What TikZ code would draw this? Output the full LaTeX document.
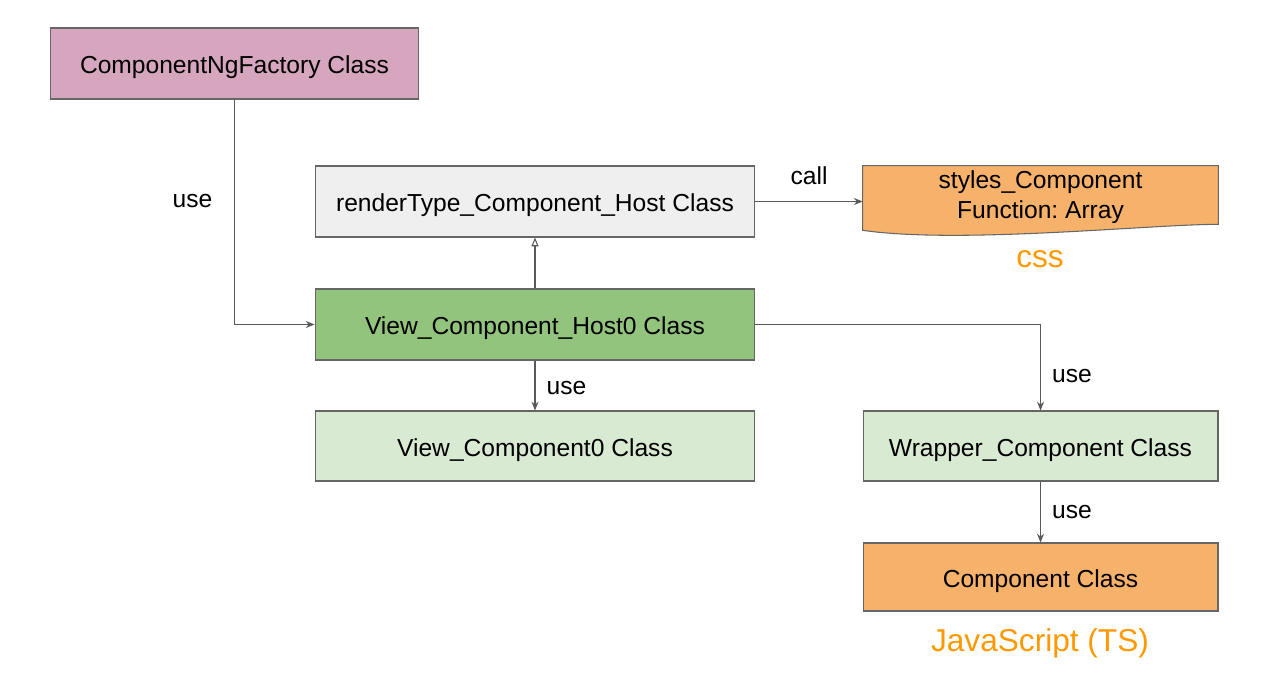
\documentclass[tikz,border=0pt]{standalone}
\usepackage{fontspec}
\setmainfont{Liberation Sans}
\usetikzlibrary{arrows.meta}
\definecolor{factorypink}{HTML}{D5A6BD}
\definecolor{renderlight}{HTML}{EFEFEF}
\definecolor{hostgreen}{HTML}{93C47D}
\definecolor{viewgreen}{HTML}{D9EAD3}
\definecolor{compfill}{HTML}{F6B26B}
\definecolor{langorange}{HTML}{FF9900}
\definecolor{edgegray}{HTML}{666666}
\definecolor{linegray}{HTML}{595959}
\frenchspacing
\begin{document}
\begin{tikzpicture}[x=0.02cm,y=-0.02cm,>={Stealth[length=5pt,width=4pt]},font=\fontsize{14}{17}\selectfont,
	box/.style={draw=edgegray,line width=0.6pt,minimum height=1.42cm,inner sep=0pt,text height=11.5pt,text depth=0pt},
	wide/.style={box,minimum width=8.8cm},
	narrow/.style={box,minimum width=7.1cm},
	conn/.style={draw=linegray,line width=0.6pt},
	lang/.style={text=langorange,font=\fontsize{18}{21}\selectfont}]
	\useasboundingbox (0,0) rectangle (1263,695);
	% boxes
	\node[box,minimum width=7.38cm,fill=factorypink] (fac) at (234.5,63.5) {ComponentNgFactory Class};
	\node[wide,fill=renderlight] (render) at (535,201.5) {renderType\_Component\_Host Class};
	\node[wide,fill=hostgreen] (host) at (535,324.5) {View\_Component\_Host0 Class};
	\node[wide,fill=viewgreen,minimum height=1.4cm] (view) at (535,446) {View\_Component0 Class};
	\node[narrow,fill=viewgreen,minimum height=1.4cm] (wrap) at (1040.5,446) {Wrapper\_Component Class};
	\node[narrow,fill=compfill,minimum height=1.36cm] (comp) at (1040.5,577) {Component Class};
	% document shape
	\node[minimum width=7.1cm,minimum height=1.16cm,inner sep=0pt] (stylesdoc) at (1040.5,195) {};
	\filldraw[fill=compfill,draw=edgegray,line width=0.6pt] (stylesdoc.north west) -- (stylesdoc.north east) -- (stylesdoc.south east)
		.. controls +(-68,0) and +(97,14) .. ([yshift=-0.12cm]stylesdoc.south west) -- cycle;
	\node[align=center,yshift=-0.04cm] at (stylesdoc) {styles\_Component\\Function: Array};
	\node[lang] (css) at (1040,259) {css};
	\node[lang] (jsts) at (1040,643) {JavaScript (TS)};
	% connectors
	\draw[conn,->] (fac.south) |- (host.west) node[pos=0.225,left=9pt]{use};
	\draw[conn,-{Triangle[open,length=5pt,width=4pt]}] (host.north) -- (render.south);
	\draw[conn,->] (render.east) -- (render.east -| stylesdoc.west) node[midway,above=6pt]{call};
	\draw[conn,->] (host.east) -| (wrap.north) node[pos=0.8,right=3pt]{use};
	\draw[conn,->] (host.south) -- (view.north) node[pos=0.55,right=3pt]{use};
	\draw[conn,->] (wrap.south) -- (comp.north) node[midway,right=3pt]{use};
\end{tikzpicture}
\end{document}
